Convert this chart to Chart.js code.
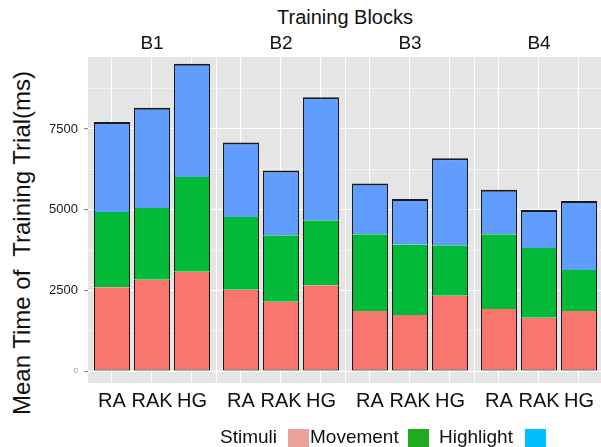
<!DOCTYPE html>
<html>
<head>
<meta charset="utf-8">
<script src="https://cdn.jsdelivr.net/npm/chart.js@4.4.0/dist/chart.umd.min.js"></script>
<style>
body { margin: 0; width: 601px; height: 447px; overflow: hidden; background: #fff; position: relative; font-family: "Liberation Sans", Arial, sans-serif; }
canvas { position: absolute; top: 0; }
.txt { position: absolute; color: #111; white-space: nowrap; line-height: 1; }
#top-title { left: 345px; top: 17px; font-size: 20px; transform: translate(-50%, -50%); }
#y-title { left: 22px; top: 243px; font-size: 24px; transform: translate(-50%, -50%) rotate(-90deg); }
.leg { position: absolute; font-size: 19px; line-height: 19px; top: 427px; color: #111; white-space: nowrap; }
.box { position: absolute; top: 429px; width: 21px; height: 18px; }
</style>
</head>
<body>
<div id="top-title" class="txt">Training Blocks</div>
<div id="y-title" class="txt">Mean Time of&nbsp; Training Trial(ms)</div>

<canvas id="panel0" width="216" height="447" style="left:0px"></canvas>
<canvas id="panel1" width="128" height="447" style="left:217px"></canvas>
<canvas id="panel2" width="128" height="447" style="left:346px"></canvas>
<canvas id="panel3" width="128" height="447" style="left:475px"></canvas>

<span class="leg" style="left:220px">Stimuli</span>
<span class="box" style="left:288px;background:#E9A19B"></span>
<span class="leg" style="left:310px">Movement</span>
<span class="box" style="left:408px;background:#1FAA1F"></span>
<span class="leg" style="left:439px">Highlight</span>
<span class="box" style="left:525px;background:#00BFFF"></span>

<script>
// facetas (bloques) y condiciones
const blocks = ['B1', 'B2', 'B3', 'B4'];
const conditions = ['RA', 'RAK', 'HG'];
const yTicks = [0, 2500, 5000, 7500];
const yMinor = [1250, 3750, 6250, 8750];

// valores por bloque, en orden RA, RAK, HG (ms)
const movement  = [[2600, 2830, 3080], [2520, 2150, 2660], [1860, 1740, 2330], [1920, 1650, 1860]];
const highlight = [[2330, 2220, 2930], [2250, 2060, 2010], [2380, 2170, 1570], [2320, 2160, 1270]];
const third     = [[2790, 3110, 3510], [2310, 2000, 3810], [1570, 1420, 2690], [1380, 1180, 2140]];

const panelBg = {
    id: 'panelBg',
    beforeDraw(chart) {
        const a = chart.chartArea;
        const c = chart.ctx;
        c.save();
        c.fillStyle = '#E5E5E5';
        c.fillRect(a.left, a.top, a.right - a.left, a.bottom - a.top);
        c.restore();
    }
};

// etiqueta de la faceta encima del panel
const strip = {
    id: 'strip',
    afterDraw(chart, args, opts) {
        const a = chart.chartArea;
        const c = chart.ctx;
        c.save();
        c.font = '19px "Liberation Sans", Arial, sans-serif';
        c.fillStyle = '#111';
        c.textAlign = 'center';
        c.textBaseline = 'middle';
        c.fillText(opts.text, (a.left + a.right) / 2, 44);
        c.restore();
    }
};

function isMajor(ctx) {
    return ctx.tick && yTicks.includes(ctx.tick.value);
}

function makePanel(i) {
    const ctx = document.getElementById('panel' + i).getContext('2d');
    const first = i === 0;
    const toPoints = arr => arr[i].map((v, j) => ({x: j, y: v}));
    const edge = '#1a1a1a';
    new Chart(ctx, {
        type: 'bar',
        data: {
            datasets: [
                { label: 'Movement', data: toPoints(movement), backgroundColor: '#F8766D',
                  borderColor: edge, borderWidth: {left: 1, right: 1, bottom: 1, top: 0}, borderSkipped: false },
                { label: 'Highlight', data: toPoints(highlight), backgroundColor: '#00BA38',
                  borderColor: edge, borderWidth: {left: 1, right: 1, bottom: 0, top: 0}, borderSkipped: false },
                { label: '', data: toPoints(third), backgroundColor: '#619CFF',
                  borderColor: edge, borderWidth: {left: 1, right: 1, bottom: 0, top: 2}, borderSkipped: false }
            ]
        },
        options: {
            responsive: false,
            animation: false,
            datasets: { bar: { categoryPercentage: 1, barPercentage: 0.9 } },
            layout: { padding: { top: 57, bottom: 0, left: 0, right: 0 } },
            plugins: {
                legend: { display: false },
                tooltip: { enabled: false },
                strip: { text: blocks[i] }
            },
            scales: {
                x: {
                    type: 'linear',
                    stacked: true,
                    offset: false,
                    min: -0.6,
                    max: 2.6,
                    // un tick por condicion (0, 1, 2)
                    afterBuildTicks: s => { s.ticks = conditions.map((c, j) => ({ value: j })); },
                    afterFit: s => { s.height = 64; },
                    border: { display: false },
                    grid: { color: '#ffffff', lineWidth: 1.1, drawTicks: false, offset: false },
                    ticks: {
                        autoSkip: false,
                        maxRotation: 0,
                        padding: 6,
                        color: '#111',
                        font: { size: 20, family: '"Liberation Sans", Arial, sans-serif' },
                        callback: v => conditions[v] ?? ''
                    }
                },
                y: {
                    stacked: true,
                    min: -370,
                    max: 9730,
                    afterBuildTicks: s => {
                        s.ticks = yTicks.concat(yMinor).sort((a, b) => a - b).map(v => ({ value: v }));
                    },
                    afterFit: s => { s.width = first ? 88 : 0; },
                    border: { display: false },
                    grid: {
                        color: '#ffffff',
                        lineWidth: c => isMajor(c) ? 1.1 : 0.55,
                        drawTicks: first,
                        tickLength: 4,
                        tickColor: c => isMajor(c) ? '#888' : 'rgba(0,0,0,0)'
                    },
                    ticks: {
                        display: first,
                        autoSkip: false,
                        padding: 6,
                        color: c => c.tick && c.tick.value === 0 ? '#999' : '#1a1a1a',
                        font: c => ({ size: c.tick && c.tick.value === 0 ? 8 : 13, family: '"Liberation Sans", Arial, sans-serif' }),
                        callback: v => yTicks.includes(v) ? String(v) : ''
                    }
                }
            }
        },
        plugins: [panelBg, strip]
    });
}

for (let i = 0; i < blocks.length; i++) {
    makePanel(i);
}
</script>
</body>
</html>
